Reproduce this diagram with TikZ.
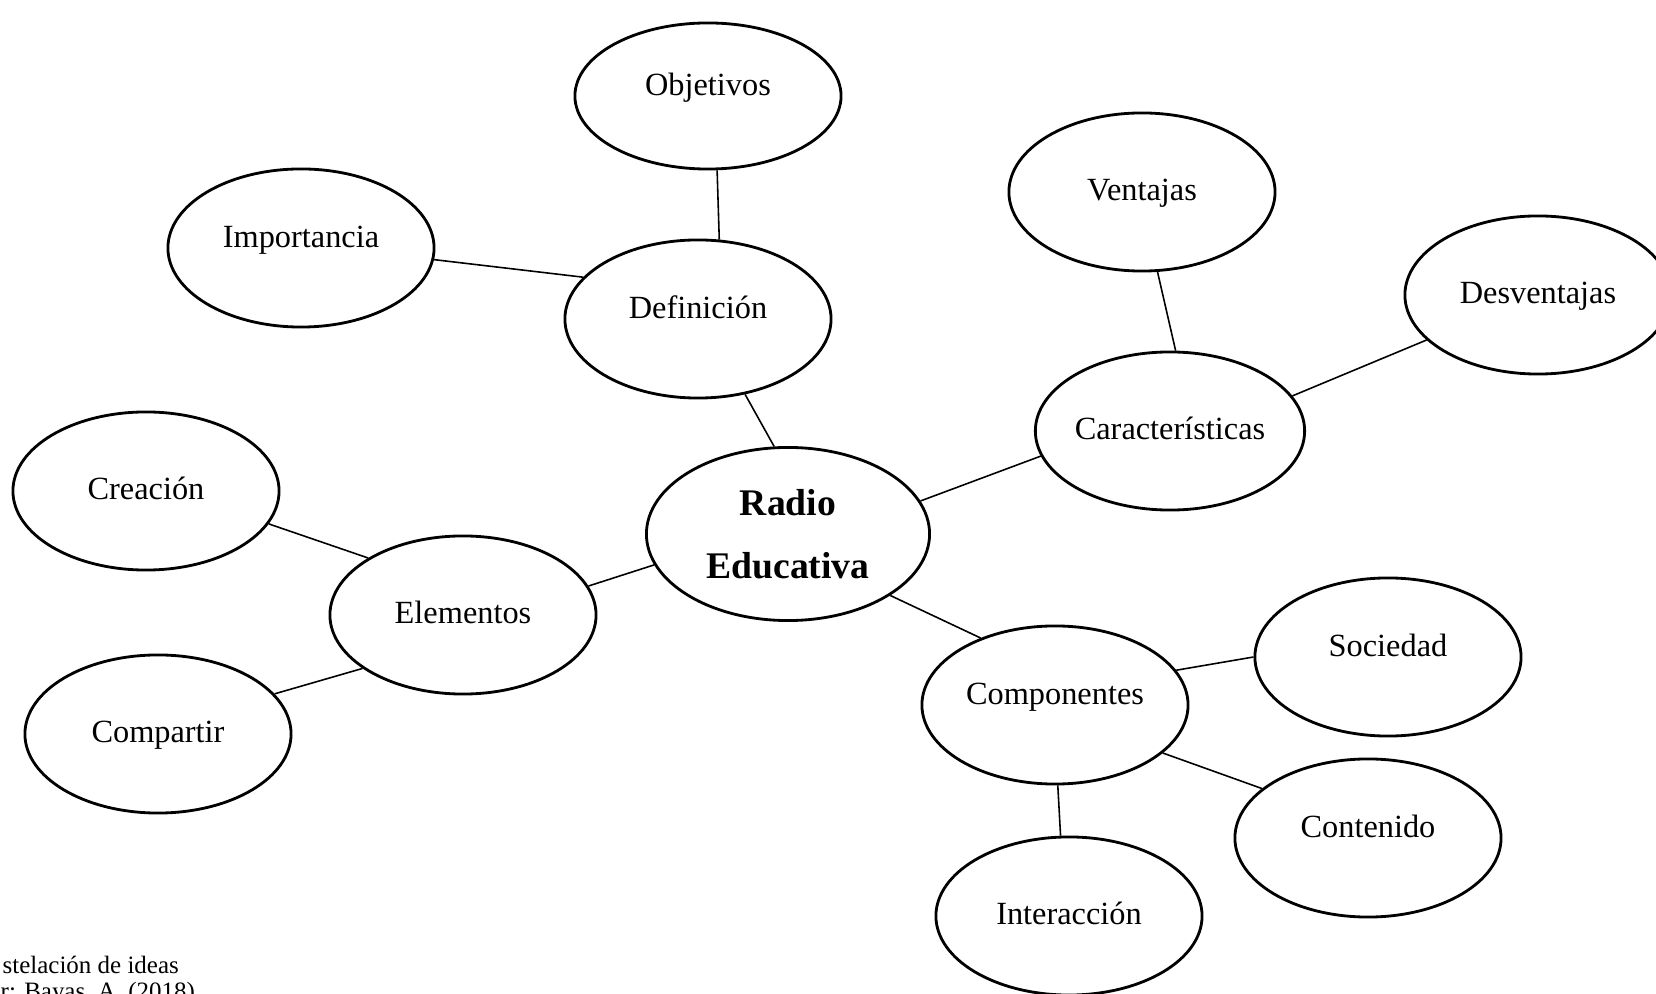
\documentclass[tikz,border=0pt]{standalone}
\usepackage{fontspec}
\setmainfont{Liberation Serif}
\usetikzlibrary{shapes.geometric}
\begin{document}
\begin{tikzpicture}[x=0.01cm,y=-0.01cm,
  bubble/.style={draw,ellipse,line width=0.8pt,minimum width=2.66cm,minimum height=1.58cm,inner sep=0pt,font=\fontsize{9.2}{11}\selectfont},
  idea/.style={bubble,text height=0.22cm,text depth=0.05cm},
  high/.style={bubble,text height=0.22cm,text depth=0.22cm},
  link/.style={line width=0.45pt}]
\useasboundingbox (0,0) rectangle (1656,994);

\node(R)[bubble,minimum width=2.83cm,minimum height=1.73cm,align=center,font=\fontsize{10.7}{17.9}\selectfont\bfseries] at (788,534) {Radio\\Educativa};

\node(O)[high,minimum height=1.46cm] at (708,96) {Objetivos};
\node(I)[high] at (301,248) {Importancia};
\node(D)[high] at (698,319) {Definición};
\node(V)[idea] at (1142,192) {Ventajas};
\node(Dv)[idea] at (1538,295) {Desventajas};
\node(C)[idea] at (1170,431) {Características};
\node(Cr)[idea] at (146,491) {Creación};
\node(E)[idea] at (463,615) {Elementos};
\node(Cp)[idea] at (158,734) {Compartir};
\node(Co)[high] at (1055,705) {Componentes};
\node(S)[high] at (1388,657) {Sociedad};
\node(Ct)[high] at (1368,838) {Contenido};
\node(In)[idea] at (1069,916) {Interacción};

%\node(T)[draw] at (828,60) {};
\node(cap1)[anchor=base west,inner sep=0pt,font=\fontsize{7.1}{8.5}\selectfont] at (2,973) {stelación de ideas};
\node(cap2)[anchor=base west,inner sep=0pt,font=\fontsize{7.1}{8.5}\selectfont] at (0,1000) {r: Bayas, A. (2018)};

\draw[link] (O.-83) -- (D.75);
\draw[link] (I.-5) -- (D.160);
\draw[link] (D.-58) -- (R.99);
\draw[link] (V.-79) -- (C.86);
\draw[link] (Dv.-158) -- (C.16);
\draw[link] (R.14) -- (C.191);
\draw[link] (E.13) -- (R.193);
\draw[link] (Cr.-15) -- (E.149);
\draw[link] (Cp.19) -- (E.-152);
\draw[link] (R.-31) -- (Co.138);
\draw[link] (Co.16) -- (S.180);
\draw[link] (Co.-24) -- (Ct.155);
\draw[link] (Co.-88) -- (In.96);

\end{tikzpicture}
\end{document}
